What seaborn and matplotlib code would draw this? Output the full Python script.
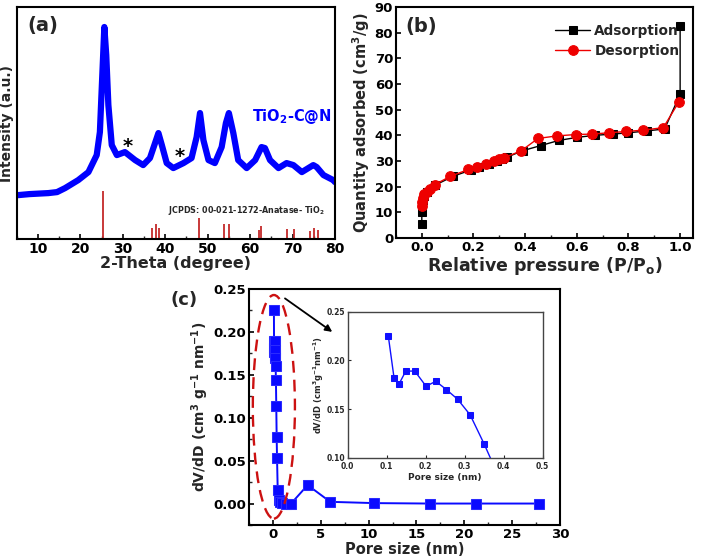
import numpy as np
import pandas as pd
import matplotlib
matplotlib.use("Agg")
import matplotlib.pyplot as plt
import seaborn as sns
from matplotlib.patches import Ellipse
from matplotlib.ticker import MultipleLocator, FormatStrFormatter

# ---------------- data ----------------
# (a) XRD pattern (2-theta, intensity a.u.)
xrd_theta = [5.0, 5.4, 8.0, 12.45, 14.5, 16.4, 19.5, 21.9, 23.85, 24.6, 25.2, 25.65, 26.1,
             26.6, 27.4, 28.6, 30.5, 32.9, 34.8, 36.4, 37.6, 38.4, 39.2, 40.35, 41.9,
             44.3, 46.2, 47.4, 48.2, 49.0, 50.2, 51.7, 53.3, 54.3, 55.0, 56.05, 57.2,
             59.2, 61.2, 62.7, 63.5, 64.7, 66.7, 68.6, 70.2, 72.2, 74.9, 75.7, 77.3,
             79.6, 80.0]
xrd_int = [44, 44, 45, 46, 47, 51, 59, 67, 84, 107, 167, 212, 184,
           134, 94, 84, 87, 79, 74, 81, 96, 106, 94, 76, 71,
           76, 81, 102, 126, 99, 79, 76, 92, 116, 126, 106, 79,
           71, 79, 92, 91, 79, 71, 76, 74, 67, 74, 72, 64,
           59, 57]
# JCPDS 00-021-1272 anatase reference sticks
ref_theta = [25.28, 36.95, 37.80, 38.58, 48.05, 53.89, 55.06, 62.12, 62.69,
             68.76, 70.31, 74.03, 75.03, 76.02]
ref_int = [48, 11, 15, 11, 21, 15, 15, 9, 13, 10, 10, 8, 11, 9]

# (b) N2 isotherm
ads_p = [0.0, 0.0, 0.002, 0.005, 0.01, 0.02, 0.05, 0.12, 0.19, 0.22, 0.26, 0.29,
         0.31, 0.33, 0.39, 0.46, 0.53, 0.60, 0.67, 0.74, 0.80, 0.87, 0.94, 1.0, 1.0]
ads_q = [5.5, 10.0, 13.0, 15.0, 16.5, 18.0, 20.5, 24.0, 26.5, 27.5, 29.0, 30.0,
         30.8, 31.5, 34.0, 36.0, 38.0, 39.2, 40.0, 40.5, 41.0, 41.7, 42.5, 56.0, 82.5]
des_p = [0.995, 0.935, 0.855, 0.79, 0.725, 0.66, 0.595, 0.525, 0.45, 0.385, 0.32,
         0.30, 0.28, 0.25, 0.215, 0.18, 0.11, 0.05, 0.03, 0.02, 0.01, 0.005, 0.002, 0.0]
des_q = [53.0, 43.0, 42.0, 41.5, 41.0, 40.5, 40.3, 39.8, 38.8, 34.0, 31.3,
         30.7, 30.0, 29.0, 27.8, 26.7, 24.0, 20.8, 19.0, 18.0, 17.0, 15.5, 14.0, 12.5]

# (c) pore size distribution
pore = [0.104, 0.119, 0.132, 0.149, 0.172, 0.201, 0.226, 0.253, 0.282, 0.314, 0.350,
        0.39, 0.43, 0.50, 0.60, 0.75, 1.0, 1.4, 1.9, 3.63, 5.99, 10.6, 16.4, 21.2, 27.8]
dvdd = [0.2254, 0.1816, 0.176, 0.189, 0.189, 0.1734, 0.1785, 0.170, 0.160, 0.144, 0.114,
        0.078, 0.053, 0.016, 0.004, 0.002, 0.001, 0.0, 0.0, 0.0215, 0.002, 0.0005, 0.0, 0.0, 0.0]

# ---------------- style ----------------
sns.set_style("ticks")
plt.rcParams['font.family'] = ['DejaVu Sans']
plt.rcParams['font.weight'] = 'bold'
plt.rcParams['axes.labelweight'] = 'bold'
plt.rcParams['axes.linewidth'] = 1.5
plt.rcParams['xtick.direction'] = 'in'
plt.rcParams['ytick.direction'] = 'in'
plt.rcParams['axes.edgecolor'] = 'black'
plt.rcParams['mathtext.default'] = 'bf'

fig = plt.figure(figsize=(7.09, 5.6), dpi=100)

def style_ticks(ax, size):
    ax.tick_params(which='major', length=3.5, width=1.2, labelsize=size, pad=2,
                   colors='black')
    ax.tick_params(which='minor', length=2, width=1.0)
    for lab in ax.get_xticklabels() + ax.get_yticklabels():
        lab.set_fontweight('bold')

# ---------------- (a) ----------------
ax_a = fig.add_axes([0.0236, 0.573, 0.4488, 0.4145])
df_a = pd.DataFrame({'theta': xrd_theta, 'I': xrd_int})
sns.lineplot(data=df_a, x='theta', y='I', ax=ax_a, color='#0000ff', lw=4.5,
             estimator=None, sort=False)
ax_a.vlines(ref_theta, 0, ref_int, color='#c42a2a', lw=1.3)
ax_a.set_xlim(5, 80)
ax_a.set_ylim(0, 232)
ax_a.set_yticks([])
ax_a.set_xticks(range(10, 81, 10))
ax_a.xaxis.set_minor_locator(MultipleLocator(5))
style_ticks(ax_a, 10)
ax_a.set_xlabel('2-Theta (degree)', fontsize=11.5, labelpad=0)
ax_a.set_ylabel('Intensity (a.u.)', fontsize=10, labelpad=2)
ax_a.text(0.032, 0.96, '(a)', transform=ax_a.transAxes, fontsize=14,
          fontweight='bold', va='top', ha='left')
ax_a.text(69.8, 123, 'TiO$_2$-C@N', color='#0000ff', fontsize=10.5,
          fontweight='bold', ha='center', va='center')
ax_a.text(31.2, 93, '*', fontsize=14, ha='center', va='center', color='black')
ax_a.text(43.5, 83, '*', fontsize=14, ha='center', va='center', color='black')
ax_a.text(77.7, 29, 'JCPDS: 00-021-1272-Anatase- TiO$_2$', fontsize=5.8,
          fontweight='bold', ha='right', va='center')

# ---------------- (b) ----------------
ax_b = fig.add_axes([0.5585, 0.575, 0.419, 0.4125])
sns.lineplot(x=ads_p, y=ads_q, ax=ax_b, color='black', lw=1.0, marker='s',
             markersize=5.5, markeredgecolor='black', estimator=None, sort=False,
             label='Adsorption')
sns.lineplot(x=des_p, y=des_q, ax=ax_b, color='#ee0000', lw=1.0, marker='o',
             markersize=7, markeredgecolor='#ee0000', estimator=None, sort=False,
             label='Desorption')
ax_b.set_xlim(-0.1, 1.05)
ax_b.set_ylim(0, 90)
ax_b.set_xticks(np.arange(0, 1.01, 0.2))
ax_b.xaxis.set_minor_locator(MultipleLocator(0.1))
ax_b.set_yticks(range(0, 91, 10))
ax_b.xaxis.set_major_formatter(FormatStrFormatter('%.1f'))
style_ticks(ax_b, 9.5)
ax_b.set_xlabel('Relative pressure (P/P$_o$)', fontsize=12.5, labelpad=1)
ax_b.set_ylabel('Quantity adsorbed (cm$^3$/g)', fontsize=10.5, labelpad=2)
ax_b.text(0.03, 0.955, '(b)', transform=ax_b.transAxes, fontsize=14,
          fontweight='bold', va='top', ha='left')
leg = ax_b.legend(loc='upper right', frameon=False, fontsize=9.8,
                  handlelength=2.6, handletextpad=0.3, labelspacing=0.45,
                  borderaxespad=0.6, bbox_to_anchor=(1.0, 0.985))
for t in leg.get_texts():
    t.set_fontweight('bold')

# ---------------- (c) ----------------
ax_c = fig.add_axes([0.3512, 0.0625, 0.4386, 0.4215])
sns.lineplot(x=pore, y=dvdd, ax=ax_c, color='#0a0aff', lw=1.4, marker='s',
             markersize=7, markeredgecolor='#2a2aff', estimator=None, sort=False)
ax_c.set_xlim(-2.5, 30)
ax_c.set_ylim(-0.025, 0.25)
ax_c.set_xticks(range(0, 31, 5))
ax_c.xaxis.set_minor_locator(MultipleLocator(2.5))
ax_c.set_yticks(np.arange(0, 0.251, 0.05))
ax_c.yaxis.set_minor_locator(MultipleLocator(0.025))
ax_c.yaxis.set_major_formatter(FormatStrFormatter('%.2f'))
style_ticks(ax_c, 9.5)
ax_c.set_xlabel('Pore size (nm)', fontsize=10.5, labelpad=1)
ax_c.set_ylabel('dV/dD (cm$^3$ g$^{-1}$ nm$^{-1}$)', fontsize=10, labelpad=2)
fig.text(170 / 709, 1 - 291 / 560, '(c)', fontsize=13, fontweight='bold',
         va='top', ha='left')
ell = Ellipse((0.1, 0.1127), width=4.4, height=0.2605, angle=0, fill=False,
              edgecolor='#cc1111', lw=1.7, ls=(0, (5, 3)), zorder=5, clip_on=False)
ax_c.add_patch(ell)
ax_c.annotate('', xy=(6.2, 0.200), xytext=(1.26, 0.239),
              arrowprops=dict(arrowstyle='-|>', color='black', lw=1.3,
                              mutation_scale=10, shrinkA=0, shrinkB=0))

# inset
ax_i = fig.add_axes([0.4904, 0.1827, 0.2750, 0.2607], zorder=6)
ax_i.set_facecolor('white')
sns.lineplot(x=pore, y=dvdd, ax=ax_i, color='#1010ff', lw=1.0, marker='s',
             markersize=4, markeredgecolor='#1010ff', estimator=None, sort=False)
ax_i.set_xlim(0, 0.5)
ax_i.set_ylim(0.10, 0.25)
ax_i.set_xticks(np.arange(0, 0.51, 0.1))
ax_i.set_yticks([0.10, 0.15, 0.20, 0.25])
ax_i.xaxis.set_major_formatter(FormatStrFormatter('%.1f'))
ax_i.yaxis.set_major_formatter(FormatStrFormatter('%.2f'))
for s in ax_i.spines.values():
    s.set_linewidth(1.0)
    s.set_color('#444444')
ax_i.tick_params(which='major', length=2, width=0.8, labelsize=5.5, pad=1.5)
ax_i.tick_params(axis='x', pad=3.2)
for lab in ax_i.get_xticklabels() + ax_i.get_yticklabels():
    lab.set_fontweight('bold')
ax_i.set_xlabel('Pore size (nm)', fontsize=6.5, labelpad=1)
ax_i.set_ylabel('dV/dD (cm$^3$g$^{-1}$nm$^{-1}$)', fontsize=6, labelpad=1)

fig.savefig('out.png', dpi=100)
